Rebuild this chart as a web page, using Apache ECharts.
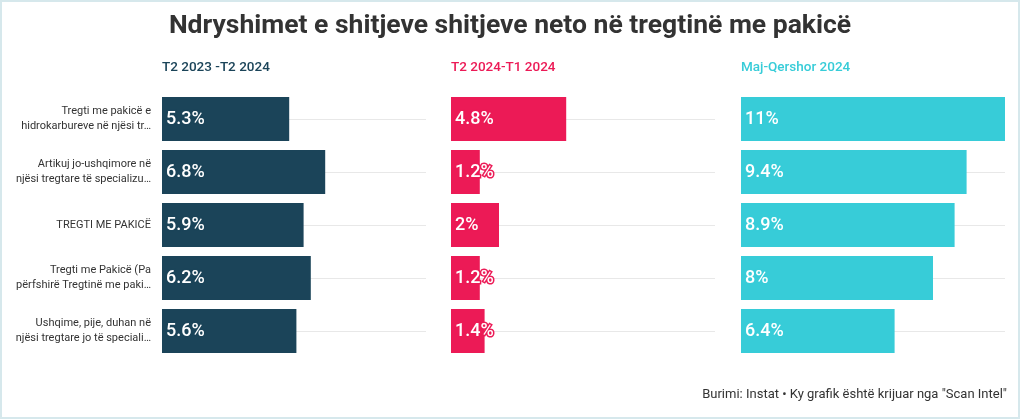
<!DOCTYPE html>
<html>
<head>
<meta charset="utf-8">
<script src="https://cdn.jsdelivr.net/npm/echarts@6/dist/echarts.min.js"></script>
<style>
html,body{margin:0;padding:0;background:#fff;}
#wrap{position:absolute;left:0;top:0;width:1016px;height:415px;border:2px solid #d6e8ec;}
#chart{width:1016px;height:415px;}
</style>
</head>
<body>
<div id="wrap"><div id="chart"></div></div>
<script>
const title = 'Ndryshimet e shitjeve shitjeve neto në tregtinë me pakicë';
const categories = [
  'Tregti me pakicë e\nhidrokarbureve në njësi tr…',
  'Artikuj jo-ushqimore në\nnjësi tregtare të specializu…',
  'TREGTI ME PAKICË',
  'Tregti me Pakicë (Pa\npërfshirë Tregtinë me paki…',
  'Ushqime, pije, duhan në\nnjësi tregtare jo të speciali…'
];
const seriesNames = ['T2 2023 -T2 2024', 'T2 2024-T1 2024', 'Maj-Qershor 2024'];
const values1 = [5.3, 6.8, 5.9, 6.2, 5.6];
const values2 = [4.8, 1.2, 2, 1.2, 1.4];
const values3 = [11, 9.4, 8.9, 8, 6.4];
const footer = 'Burimi: Instat • Ky grafik është krijuar nga "Scan Intel"';

const colors = ['#1b4459', '#ec1a56', '#37ccd8'];
const allValues = [values1, values2, values3];
const lefts = [160, 449, 739];
const font = 'Roboto, "Liberation Sans", sans-serif';

const chart = echarts.init(document.getElementById('chart'));
const grids = [], xAxes = [], yAxes = [], series = [], titles = [];
titles.push({
  text: title, left: 'center', top: 6,
  textStyle: {fontFamily: font, fontSize: 26.5, fontWeight: 'bold', color: '#333'}
});
for (let i = 0; i < 3; i++) {
  grids.push({left: lefts[i], width: 264, top: 90.5, height: 265});
  titles.push({
    text: seriesNames[i], left: lefts[i], top: 59, padding: 0,
    textStyle: {fontFamily: font, fontSize: 13.5, fontWeight: 500, color: colors[i]}
  });
  xAxes.push({type: 'value', gridIndex: i, min: 0, max: 11, show: false});
  yAxes.push({
    type: 'category', gridIndex: i, data: categories, inverse: true,
    axisLine: {show: false}, axisTick: {show: false},
    axisLabel: {show: i === 0, margin: 11, fontFamily: font, fontSize: 11, color: '#333', lineHeight: 15, align: 'right'},
    splitLine: {show: true, alignWithLabel: true, lineStyle: {color: '#e8e8e8', width: 1}}
  });
  series.push({
    type: 'bar', name: seriesNames[i], xAxisIndex: i, yAxisIndex: i,
    data: allValues[i], barWidth: 44, itemStyle: {color: colors[i]},
    label: {
      show: true, position: 'insideLeft', distance: 4,
      formatter: p => p.value + '%',
      fontFamily: font, fontSize: 18, fontWeight: 500, color: '#fff',
      textBorderColor: colors[i], textBorderWidth: 3
    }
  });
}
titles.push({
  text: footer, right: 6, top: 381,
  textStyle: {fontFamily: font, fontSize: 13, fontWeight: 'normal', color: '#333'}
});
chart.setOption({
  animation: false,
  title: titles, grid: grids, xAxis: xAxes, yAxis: yAxes, series: series
});
</script>
</body>
</html>
